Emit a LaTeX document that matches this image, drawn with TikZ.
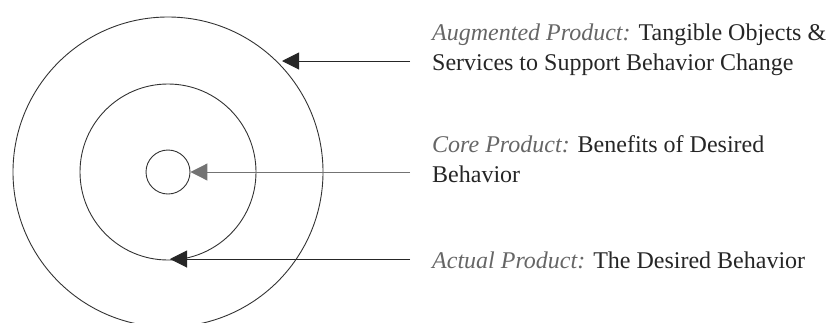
\documentclass[tikz,border=0pt]{standalone}
\usepackage{fontspec}
\setmainfont{Liberation Serif}
\usetikzlibrary{arrows.meta}
\begin{document}
\begin{tikzpicture}[x=1pt,y=-1pt,
  ring/.style={draw=black!80,line width=0.9pt},
  pointer/.style={draw=black!85,line width=1pt,-{Triangle[length=17pt,width=17pt]}},
  lbl/.style={anchor=base west,align=left,inner sep=0pt,text=black!85,
    font=\fontsize{24}{29.5}\selectfont},
  lead/.style={text=black!60}]
\useasboundingbox (0,0) rectangle (830,322);
\coordinate (c) at (168,172);
\node[ring,circle,minimum size=310pt,inner sep=0pt] (outer) at (c) {};
\node[ring,circle,minimum size=176pt,inner sep=0pt] (mid) at (c) {};
\node[ring,circle,minimum size=44pt,inner sep=0pt] (core) at (c) {};
\coordinate (s1) at (410,61);
\coordinate (s2) at (410,172);
\coordinate (s3) at (410,259);
\coordinate (t1) at (282,61);
\coordinate (t3) at (170,259);
\draw[pointer] (s1) -- (t1);
\draw[pointer,draw=black!55] (s2) -- (core.east);
\draw[pointer] (s3) -- (t3);
\node[lbl] (aug) at (432,70) {{\itshape\color{black!60}Augmented Product:} Tangible Objects \&\\Services to Support Behavior Change};
\node[lbl] (cor) at (432,182) {{\itshape\color{black!60}Core Product:} Benefits of Desired\\Behavior};
\node[lbl] (act) at (432,268) {{\itshape\color{black!60}Actual Product:} The Desired Behavior};
\end{tikzpicture}
\end{document}
